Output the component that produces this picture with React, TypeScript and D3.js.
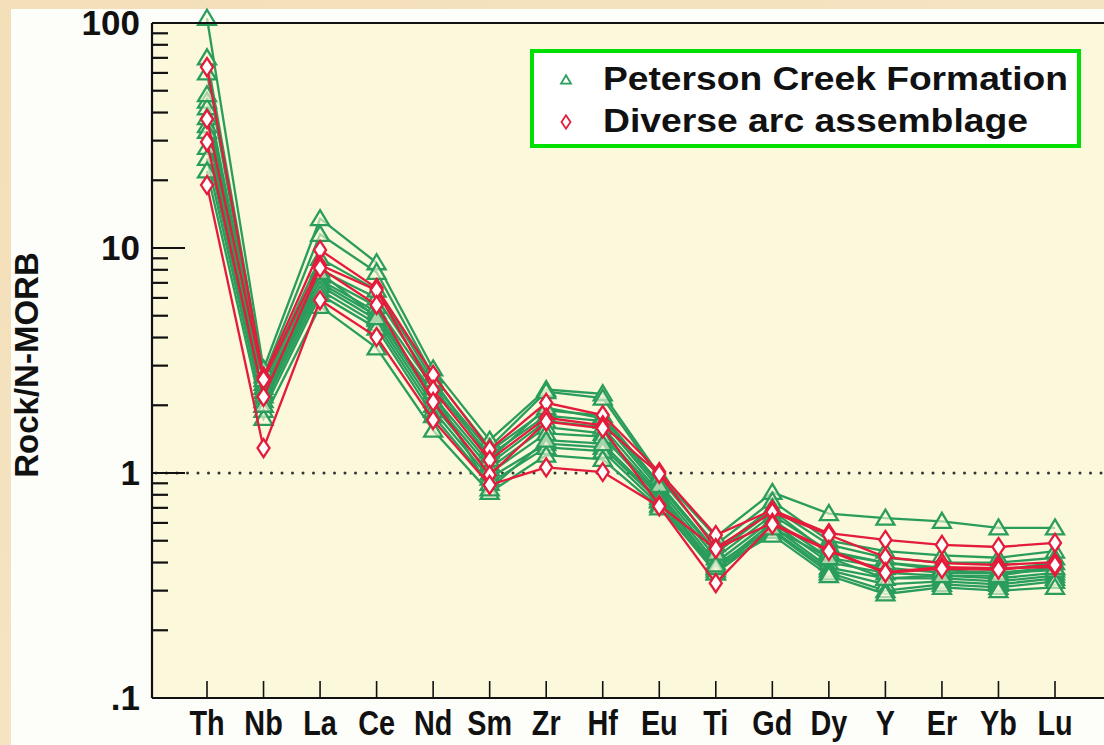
import React from "react";
import * as d3 from "d3";

const elements = ["Th", "Nb", "La", "Ce", "Nd", "Sm", "Zr", "Hf", "Eu", "Ti", "Gd", "Dy", "Y", "Er", "Yb", "Lu"];

// Peterson Creek Formation (green triangles)
const peterson1 = [105, 2.9, 13.5, 8.6, 2.9, 1.4, 2.35, 2.25, 0.98, 0.52, 0.82, 0.66, 0.63, 0.61, 0.57, 0.57];
const peterson2 = [70, 2.7, 11.5, 7.8, 2.7, 1.3, 2.3, 2.15, 0.95, 0.48, 0.75, 0.5, 0.45, 0.43, 0.42, 0.45];
const peterson3 = [60, 2.5, 8.0, 6.0, 2.5, 1.25, 1.9, 1.8, 0.9, 0.45, 0.7, 0.48, 0.42, 0.4, 0.4, 0.42];
const peterson4 = [45, 2.4, 7.5, 5.5, 2.4, 1.2, 1.8, 1.7, 0.85, 0.42, 0.65, 0.45, 0.4, 0.38, 0.37, 0.4];
const peterson5 = [42, 2.3, 7.2, 5.2, 2.2, 1.1, 1.7, 1.6, 0.82, 0.4, 0.62, 0.42, 0.38, 0.36, 0.36, 0.38];
const peterson6 = [35, 2.2, 7.0, 5.0, 2.1, 1.05, 1.6, 1.5, 0.8, 0.38, 0.6, 0.4, 0.36, 0.35, 0.34, 0.36];
const peterson7 = [33, 2.1, 6.8, 4.8, 2.0, 1.0, 1.5, 1.45, 0.78, 0.37, 0.58, 0.38, 0.34, 0.34, 0.33, 0.35];
const peterson8 = [28, 2.0, 6.5, 4.6, 1.9, 0.95, 1.35, 1.3, 0.75, 0.36, 0.56, 0.37, 0.32, 0.33, 0.32, 0.34];
const peterson9 = [25, 1.9, 6.2, 4.4, 1.8, 0.9, 1.3, 1.25, 0.72, 0.36, 0.55, 0.36, 0.3, 0.32, 0.31, 0.33];
const peterson10 = [22, 1.75, 5.5, 3.6, 1.55, 0.82, 1.2, 1.15, 0.7, 0.38, 0.53, 0.35, 0.29, 0.31, 0.3, 0.31];
const peterson11 = [48, 2.6, 9.0, 6.5, 2.6, 1.15, 1.95, 1.75, 0.88, 0.44, 0.68, 0.44, 0.4, 0.37, 0.36, 0.37];
const peterson12 = [38, 2.0, 7.8, 4.9, 2.3, 0.85, 1.4, 1.35, 0.76, 0.39, 0.57, 0.42, 0.34, 0.35, 0.35, 0.38];

// Diverse arc assemblage (red diamonds)
const arc1 = [63.7, 2.67, 9.8, 6.64, 2.73, 1.27, 2.05, 1.81, 1.01, 0.53, 0.685, 0.54, 0.504, 0.479, 0.469, 0.489];
const arc2 = [37.4, 2.6, 8.4, 6.5, 2.34, 1.14, 1.76, 1.63, 0.99, 0.464, 0.67, 0.53, 0.423, 0.398, 0.39, 0.402];
const arc3 = [29.6, 2.18, 8.15, 5.58, 2.07, 0.98, 1.69, 1.58, 0.72, 0.46, 0.6, 0.455, 0.363, 0.382, 0.378, 0.382];
const arc4 = [19.05, 1.29, 5.87, 4.02, 1.72, 0.885, 1.06, 1.01, 0.71, 0.324, 0.59, 0.45, 0.36, 0.375, 0.372, 0.39];

const petersonSeries = [peterson1, peterson2, peterson3, peterson4, peterson5, peterson6, peterson7, peterson8, peterson9, peterson10, peterson11, peterson12];
const arcSeries = [arc1, arc2, arc3, arc4];

const yTickValues = [0.1, 1, 10, 100];
const yTickLabels = [".1", "1", "10", "100"];

const legendLabels = ["Peterson Creek Formation", "Diverse arc assemblage"];

const GREEN = "#2a9d5c";
const RED = "#e41b3a";
const W = 1104;
const H = 745;
const plotLeft = 152;
const plotTop = 23;
const plotBottom = 698;

export default function App() {
  const x = d3.scalePoint<string>().domain(elements).range([207, 1055]);
  const y = d3.scaleLog().domain([0.1, 100]).range([plotBottom, plotTop]);
  const line = d3
    .line<number>()
    .x((_, i) => x(elements[i]) as number)
    .y((d) => y(d));

  const minorTicks: number[] = [];
  [0.1, 1, 10].forEach((dec) => {
    for (let k = 2; k <= 9; k++) minorTicks.push(dec * k);
  });

  const tri = (cx: number, cy: number, s = 1) =>
    `M${cx},${cy - 8.5 * s} L${cx + 9 * s},${cy + 6.5 * s} L${cx - 9 * s},${cy + 6.5 * s} Z`;
  const dia = (cx: number, cy: number, s = 1) =>
    `M${cx},${cy - 9 * s} L${cx + 6 * s},${cy} L${cx},${cy + 9 * s} L${cx - 6 * s},${cy} Z`;

  const font = "'Liberation Sans', Arial, sans-serif";

  return (
    <div style={{ position: "fixed", left: 0, top: 0 }}>
      <svg width={W} height={H} style={{ display: "block" }}>
        <defs>
          <linearGradient id="bgGrad" x1="0" y1="0" x2="1" y2="1">
            <stop offset="0%" stopColor="#f3dfb8" />
            <stop offset="100%" stopColor="#f7e8cc" />
          </linearGradient>
        </defs>
        <rect x={0} y={0} width={W} height={H} fill="url(#bgGrad)" />
        <rect x={11} y={9} width={W - 11} height={H - 9} fill="#fdfdfa" />
        <rect x={plotLeft} y={plotTop} width={W - plotLeft} height={plotBottom - plotTop} fill="#fbf8dc" />

        {/* dotted reference line at 1 */}
        <line
          x1={plotLeft + 4}
          x2={W}
          y1={y(1)}
          y2={y(1)}
          stroke="#333"
          strokeWidth={3}
          strokeDasharray="0 10.5"
          strokeLinecap="round"
        />

        {/* series */}
        <g>
          {petersonSeries.map((s, i) => (
            <path key={"pl" + i} d={line(s) as string} fill="none" stroke={GREEN} strokeWidth={2.3} />
          ))}
          {petersonSeries.map((s, i) =>
            s.map((v, j) => (
              <path
                key={"pm" + i + "-" + j}
                d={tri(x(elements[j]) as number, y(v))}
                fill="#fbf8dc"
                fillOpacity={0.6}
                stroke={GREEN}
                strokeWidth={2.3}
              />
            ))
          )}
          {arcSeries.map((s, i) => (
            <path key={"al" + i} d={line(s) as string} fill="none" stroke={RED} strokeWidth={2.3} />
          ))}
          {arcSeries.map((s, i) =>
            s.map((v, j) => (
              <path
                key={"am" + i + "-" + j}
                d={dia(x(elements[j]) as number, y(v))}
                fill="#ffffff"
                stroke={RED}
                strokeWidth={2.3}
              />
            ))
          )}
        </g>

        {/* axes */}
        <line x1={plotLeft} x2={W} y1={plotTop} y2={plotTop} stroke="#111" strokeWidth={2.2} />
        <line x1={plotLeft} x2={plotLeft} y1={plotTop} y2={plotBottom} stroke="#111" strokeWidth={2.2} />
        <line x1={plotLeft} x2={W} y1={plotBottom} y2={plotBottom} stroke="#111" strokeWidth={2.2} />
        {minorTicks.map((t) => (
          <line key={"mt" + t} x1={plotLeft} x2={plotLeft + 16} y1={y(t)} y2={y(t)} stroke="#111" strokeWidth={2.2} />
        ))}
        {yTickValues.map((t) => (
          <line key={"Mt" + t} x1={plotLeft} x2={plotLeft + 33} y1={y(t)} y2={y(t)} stroke="#111" strokeWidth={2.2} />
        ))}
        {yTickValues.map((t, i) => (
          <text
            key={"yl" + t}
            x={140}
            y={y(t) + 12}
            textAnchor="end"
            fontFamily={font}
            fontWeight="bold"
            fontSize={35}
            fill="#111"
          >
            {yTickLabels[i]}
          </text>
        ))}
        {elements.map((e) => (
          <line
            key={"xt" + e}
            x1={x(e) as number}
            x2={x(e) as number}
            y1={plotBottom}
            y2={plotBottom - 17}
            stroke="#111"
            strokeWidth={1.6}
          />
        ))}
        {elements.map((e) => (
          <text
            key={"xl" + e}
            transform={`translate(${x(e) as number}, 735) scale(0.8, 1)`}
            textAnchor="middle"
            fontFamily={font}
            fontWeight="bold"
            fontSize={36}
            fill="#111"
          >
            {e}
          </text>
        ))}
        <text
          transform={`translate(38, ${365}) rotate(-90)`}
          textAnchor="middle"
          fontFamily={font}
          fontWeight="bold"
          fontSize={33}
          fill="#111"
        >
          Rock/N-MORB
        </text>

        {/* legend */}
        <rect x={532} y={51} width={547} height={95} fill="#ffffff" stroke="#00e000" strokeWidth={4} />
        <path d={tri(566, 80, 0.55)} fill="none" stroke={GREEN} strokeWidth={1.8} />
        <path d={dia(566, 122, 0.75)} fill="none" stroke={RED} strokeWidth={1.8} />
        <text
          x={603}
          y={90}
          fontFamily={font}
          fontWeight="bold"
          fontSize={34}
          fill="#111"
          textLength={465}
          lengthAdjust="spacingAndGlyphs"
        >
          {legendLabels[0]}
        </text>
        <text
          x={603}
          y={132}
          fontFamily={font}
          fontWeight="bold"
          fontSize={34}
          fill="#111"
          textLength={425}
          lengthAdjust="spacingAndGlyphs"
        >
          {legendLabels[1]}
        </text>
      </svg>
    </div>
  );
}
